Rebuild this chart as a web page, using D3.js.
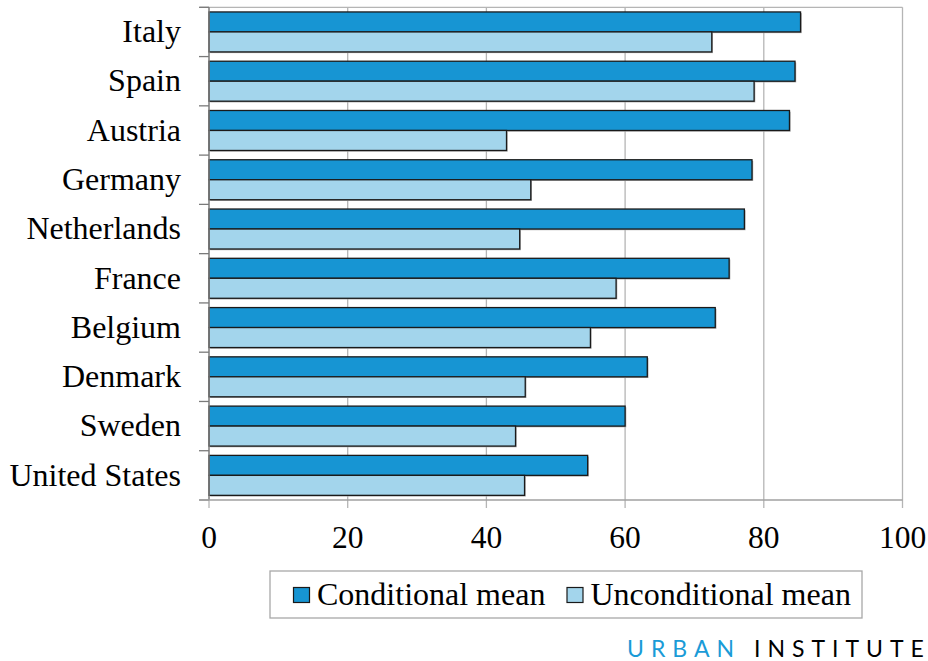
<!DOCTYPE html>
<html>
<head>
<meta charset="utf-8">
<script src="https://cdn.jsdelivr.net/npm/d3@7"></script>
<style>
  html, body { margin: 0; padding: 0; background: #fff; }
  svg { display: block; }
</style>
</head>
<body>
<svg id="chart" width="928" height="661"></svg>
<script>
const countries = ["Italy", "Spain", "Austria", "Germany", "Netherlands", "France", "Belgium", "Denmark", "Sweden", "United States"];
const conditionalMean = [85.3, 84.5, 83.7, 78.3, 77.2, 75.0, 73.0, 63.2, 60.0, 54.6];
const unconditionalMean = [72.5, 78.6, 42.9, 46.4, 44.8, 58.7, 55.0, 45.6, 44.2, 45.5];
const seriesNames = ["Conditional mean", "Unconditional mean"];
const seriesColors = ["#1795d3", "#a3d5ec"];
const xTicks = [0, 20, 40, 60, 80, 100];

(function () {
const svg = d3.select("#chart");
const pLeft = 209, pRight = 902.5, pTop = 7.3, pBottom = 500;
const serif = "'Liberation Serif', 'Times New Roman', serif";

const x = d3.scaleLinear().domain([0, 100]).range([pLeft, pRight]);
const y = d3.scaleBand().domain(countries).range([pTop, pBottom]).paddingInner(0).paddingOuter(0);
const ySub = d3.scaleBand().domain(seriesNames).range([0, y.bandwidth()]).paddingInner(0).paddingOuter(0.2325);

const data = countries.map((c, i) => ({ country: c, values: [conditionalMean[i], unconditionalMean[i]] }));

// gridlines
svg.append("g").selectAll("line").data(xTicks.slice(1)).join("line")
  .attr("x1", d => x(d)).attr("x2", d => x(d))
  .attr("y1", pTop).attr("y2", pBottom + 8)
  .attr("stroke", "#b5b5b5").attr("stroke-width", 1.3);
svg.append("line").attr("x1", x(0)).attr("x2", x(0)).attr("y1", pBottom).attr("y2", pBottom + 8)
  .attr("stroke", "#b5b5b5").attr("stroke-width", 1.3);
svg.append("line").attr("x1", pLeft - 9).attr("x2", pRight).attr("y1", pTop).attr("y2", pTop)
  .attr("stroke", "#b5b5b5").attr("stroke-width", 1.3);

// bars
const groups = svg.append("g").selectAll("g").data(data).join("g")
  .attr("transform", d => `translate(0,${y(d.country)})`);

groups.selectAll("rect.shadow").data(d => d.values.map((v, j) => ({ v, s: seriesNames[j], j }))).join("rect")
  .attr("class", "shadow")
  .attr("x", x(0) + 1.2).attr("y", d => ySub(d.s) + 1.2)
  .attr("width", d => x(d.v) - x(0)).attr("height", ySub.bandwidth())
  .attr("fill", "#a8a8a8");

groups.selectAll("rect.bar").data(d => d.values.map((v, j) => ({ v, s: seriesNames[j], j }))).join("rect")
  .attr("class", "bar")
  .attr("x", x(0)).attr("y", d => ySub(d.s))
  .attr("width", d => x(d.v) - x(0)).attr("height", ySub.bandwidth())
  .attr("fill", d => seriesColors[d.j])
  .attr("stroke", "#1a1a1a").attr("stroke-width", 1.3);

// y axis
const yAxis = svg.append("g");
yAxis.append("line").attr("x1", pLeft).attr("x2", pLeft).attr("y1", pTop).attr("y2", pBottom)
  .attr("stroke", "#7a7a7a").attr("stroke-width", 1.5);
const boundaries = countries.map(c => y(c)).concat([pBottom]);
yAxis.selectAll("line.tick").data(boundaries).join("line").attr("class", "tick")
  .attr("x1", pLeft - 10).attr("x2", pLeft).attr("y1", d => d).attr("y2", d => d)
  .attr("stroke", "#7a7a7a").attr("stroke-width", 1.3);
yAxis.selectAll("text").data(countries).join("text")
  .attr("x", 181).attr("y", d => y(d) + y.bandwidth() / 2)
  .attr("dy", "0.32em")
  .attr("text-anchor", "end")
  .attr("font-family", serif).attr("font-size", 32).attr("fill", "#000")
  .text(d => d);

// x axis
svg.append("line").attr("x1", pLeft - 9).attr("x2", pRight).attr("y1", pBottom).attr("y2", pBottom)
  .attr("stroke", "#a0a0a0").attr("stroke-width", 1.5);
svg.append("g").selectAll("text").data(xTicks).join("text")
  .attr("x", d => x(d)).attr("y", 547.5)
  .attr("text-anchor", "middle")
  .attr("font-family", serif).attr("font-size", 31.5).attr("fill", "#000")
  .text(d => d);

// legend
const legend = svg.append("g");
legend.append("rect").attr("x", 270).attr("y", 571).attr("width", 592).attr("height", 47)
  .attr("fill", "#fff").attr("stroke", "#a8a8a8").attr("stroke-width", 1.3);
const legendX = [293.5, 567];
seriesNames.forEach((s, i) => {
  legend.append("rect").attr("x", legendX[i]).attr("y", 587.5).attr("width", 16).attr("height", 15)
    .attr("fill", seriesColors[i]).attr("stroke", "#1a1a1a").attr("stroke-width", 1.2);
  legend.append("text").attr("x", legendX[i] + 23.5).attr("y", 604.5)
    .attr("font-family", serif).attr("font-size", 32).attr("fill", "#000")
    .text(s);
});

// branding
const brand = svg.append("text").attr("x", 627).attr("y", 657).attr("text-anchor", "start")
  .attr("font-family", "Lato, 'Open Sans', sans-serif").attr("font-size", 23);
brand.append("tspan").attr("fill", "#1a9bd7").attr("letter-spacing", "7px").text("URBAN ");
brand.append("tspan").attr("fill", "#000").attr("letter-spacing", "7px").text("INSTITUT");
brand.append("tspan").attr("fill", "#000").attr("letter-spacing", "0px").text("E");
})();
</script>
</body>
</html>
